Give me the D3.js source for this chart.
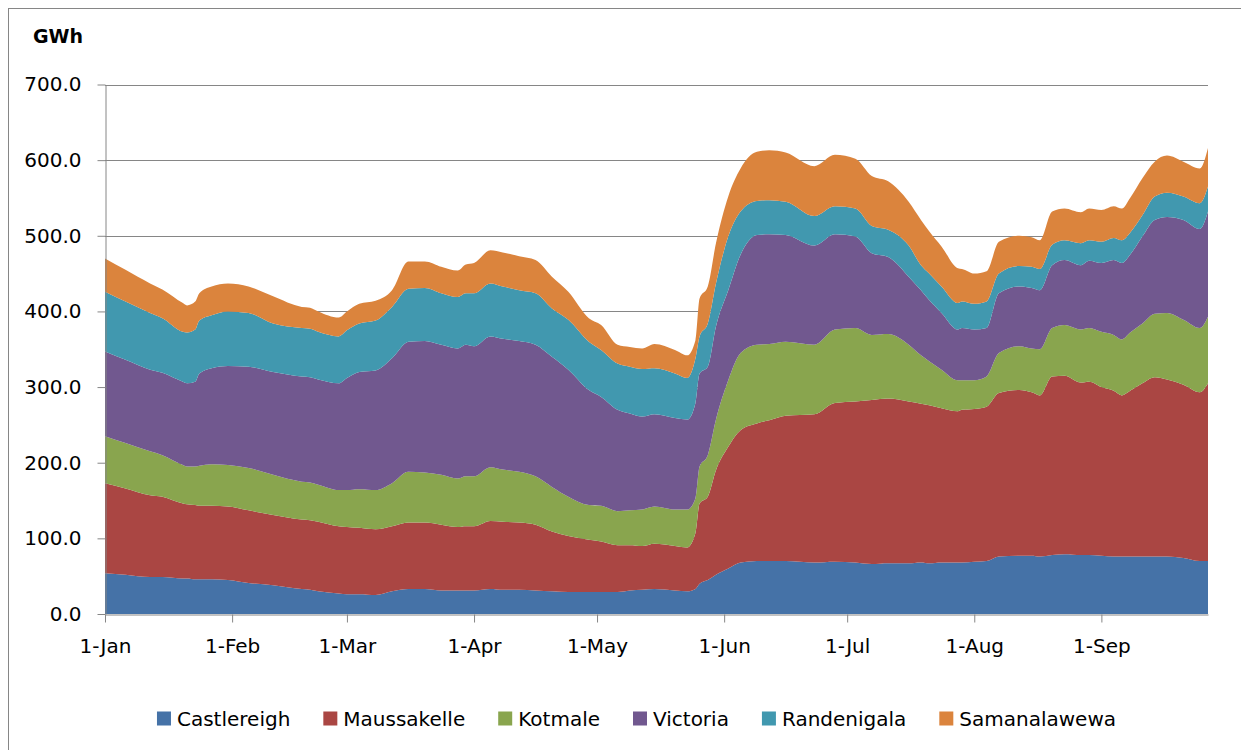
<!DOCTYPE html>
<html><head><meta charset="utf-8">
<script src="https://cdn.jsdelivr.net/npm/d3@7"></script>
<style>
body{margin:0;background:#fff}
svg{display:block}
text{font-family:"DejaVu Sans",sans-serif}
</style>
</head><body>
<svg id="c" width="1241" height="750"></svg>
<script>
// ---- data (GWh) ----
const seriesNames = ["Castlereigh","Maussakelle","Kotmale","Victoria","Randenigala","Samanalawewa"];
const seriesColors = ["#4572A7","#AA4643","#89A54E","#71588F","#4198AF","#DB843D"];
const yTicks = [0,100,200,300,400,500,600,700];
const xTickLabels = ["2013-01-01","2013-02-01","2013-03-01","2013-04-01","2013-05-01","2013-06-01","2013-07-01","2013-08-01","2013-09-01"];
const dates = ["2013-01-01","2013-01-06","2013-01-12","2013-01-15","2013-01-20","2013-01-21","2013-01-23","2013-01-24","2013-01-27","2013-01-31",
"2013-02-05","2013-02-11","2013-02-18","2013-02-20","2013-02-22","2013-02-27","2013-03-01","2013-03-04","2013-03-08","2013-03-12",
"2013-03-16","2013-03-20","2013-03-24","2013-03-28","2013-03-30","2013-04-01","2013-04-05","2013-04-08","2013-04-12","2013-04-16",
"2013-04-20","2013-04-24","2013-04-29","2013-05-02","2013-05-06","2013-05-09","2013-05-12","2013-05-15","2013-05-20","2013-05-23",
"2013-05-25","2013-05-26","2013-05-28","2013-05-30","2013-06-02","2013-06-05","2013-06-09","2013-06-12","2013-06-16","2013-06-23",
"2013-06-28","2013-07-03","2013-07-07","2013-07-11","2013-07-16","2013-07-19","2013-07-21","2013-07-24","2013-07-28","2013-07-29",
"2013-08-01","2013-08-04","2013-08-07","2013-08-12","2013-08-15","2013-08-17","2013-08-20","2013-08-23","2013-08-27","2013-08-29",
"2013-09-01","2013-09-04","2013-09-06","2013-09-08","2013-09-11","2013-09-14","2013-09-17","2013-09-21","2013-09-25","2013-09-27"];
const castlereigh = [54,52,49,49,47,47,46,46,46,45, 41,38,33,32,30,27,26,26,25,30, 33,33,31,31,31,31,33,32,32,31, 30,29,29,29,29,31,32,33,31,30,
 33,40,45,52,60,68,70,70,70,68, 69,68,66,67,67,68,67,68,68,68, 69,70,76,77,77,76,78,79,78,78, 77,76,76,76,76,76,76,74,70,70];
const maussakelle = [119,114,108,106,99,98,98,97,97,97, 96,93,92,92,92,89,89,88,87,86, 88,88,87,84,85,85,90,90,89,87, 79,74,69,67,62,60,58,60,59,58,
 74,106,110,138,161,175,182,186,192,196, 210,213,217,218,214,210,209,204,200,202, 202,204,216,219,216,213,236,236,228,229, 223,219,213,219,229,237,234,229,223,235];
const kotmale = [62,60,58,55,51,50,51,53,55,55, 56,53,50,50,49,48,49,51,52,57, 67,66,66,64,66,66,71,69,67,64, 59,52,46,47,45,46,48,49,48,50,
 46,49,55,67,88,102,104,101,98,92, 97,97,86,85,75,64,58,51,41,39, 38,40,53,58,58,61,64,67,70,71, 73,74,74,77,79,84,88,86,85,88];
const victoria = [112,110,108,109,110,110,112,122,127,131, 134,136,139,139,139,141,148,155,158,165, 172,174,172,172,174,172,173,173,173,174, 172,168,152,144,134,128,123,122,121,119,
 126,123,117,123,119,130,145,145,141,131, 126,121,108,102,90,86,81,75,67,69, 67,64,79,79,80,78,83,86,85,89, 91,99,101,103,115,124,127,132,131,139];
const randenigala = [79,77,75,72,66,67,69,70,70,72, 71,64,64,64,63,62,63,64,66,68, 70,70,68,68,68,70,70,69,67,68, 64,66,64,62,61,62,63,61,59,55,
 59,49,57,57,71,57,45,45,44,39, 37,37,36,36,41,33,35,35,35,35, 34,35,26,27,28,28,27,26,29,27, 28,29,30,29,28,31,32,31,34,33];
const samanalawewa = [44,42,39,38,38,36,37,36,38,37, 35,36,28,28,27,25,25,26,26,22, 36,35,35,35,38,40,44,45,45,44, 42,37,31,33,25,26,27,32,31,30,
 24,50,49,53,53,57,65,66,65,66, 68,66,66,64,58,60,56,53,46,43, 40,40,42,40,39,38,44,42,41,42, 42,42,42,46,49,46,49,46,46,51];

// ---- build ----
const parse = d3.timeParse("%Y-%m-%d");
const cols = [castlereigh,maussakelle,kotmale,victoria,randenigala,samanalawewa];
const rows = dates.map((d,i)=>{
  const r = {date: parse(d)};
  seriesNames.forEach((s,k)=>{ r[s] = cols[k][i]; });
  return r;
});
const stacked = d3.stack().keys(seriesNames)(rows);

const svg = d3.select("#c");
svg.append("rect").attr("x",8.5).attr("y",8.5).attr("width",1260).attr("height",780)
  .attr("fill","#fff").attr("stroke","#868686").attr("stroke-width",1);

const x = d3.scaleTime().domain([rows[0].date, rows[rows.length-1].date]).range([105,1208]);
const y = d3.scaleLinear().domain([0,700]).range([614,84.5]);

// gridlines
svg.append("g").selectAll("line").data(yTicks.filter(v=>v>0)).join("line")
  .attr("x1",105).attr("x2",1208)
  .attr("y1",d=>Math.round(y(d))+0.5).attr("y2",d=>Math.round(y(d))+0.5)
  .attr("stroke","#868686").attr("stroke-width",1);

// areas
const area = d3.area().x(d=>x(d.data.date)).y0(d=>y(d[0])).y1(d=>y(d[1])).curve(d3.curveMonotoneX);
svg.append("g").selectAll("path").data(stacked).join("path")
  .attr("d",area).attr("fill",(d,i)=>seriesColors[i]);

// y axis
const yAxis = svg.append("g").attr("transform","translate(105.5,0)")
  .call(d3.axisLeft(y).tickValues(yTicks).tickSize(8).tickSizeOuter(0).tickPadding(16).tickFormat(d3.format(".1f")));
yAxis.selectAll("text").attr("font-size",20).attr("fill","#000").style("font-family","'DejaVu Sans',sans-serif");
yAxis.selectAll("line,path").attr("stroke","#868686");

// x axis
const xAxis = svg.append("g").attr("transform","translate(0,614.5)")
  .call(d3.axisBottom(x).tickValues(xTickLabels.map(parse)).tickSize(8).tickSizeOuter(0).tickPadding(16).tickFormat(d3.timeFormat("%-d-%b")));
xAxis.selectAll("text").attr("font-size",20).attr("fill","#000").style("font-family","'DejaVu Sans',sans-serif");
xAxis.selectAll("line,path").attr("stroke","#868686");

// unit label
svg.append("text").attr("x",33).attr("y",43).attr("font-size",19).attr("font-weight","bold").attr("fill","#000").text("GWh");

// legend
const lg = svg.append("g");
const items = seriesNames.map((s,i)=>{
  const g = lg.append("g");
  g.append("rect").attr("x",0).attr("y",-7).attr("width",14).attr("height",14).attr("fill",seriesColors[i]);
  const t = g.append("text").attr("x",20).attr("y",0).attr("dy","0.35em").attr("font-size",20).attr("fill","#000").text(s);
  return {g, w: 20 + t.node().getComputedTextLength()};
});
const gap = 33;
const total = d3.sum(items,d=>d.w) + gap*(items.length-1);
let cx = 636.5 - total/2;
items.forEach(it=>{ it.g.attr("transform",`translate(${cx},718.5)`); cx += it.w + gap; });
</script>
</body></html>
